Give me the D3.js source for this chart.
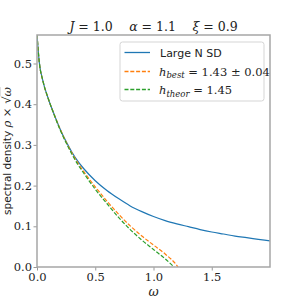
<!DOCTYPE html>
<html><head><meta charset="utf-8">
<script src="https://cdn.jsdelivr.net/npm/d3@7"></script>
<style>body{margin:0;background:#fff}svg{display:block}</style>
</head><body>
<svg id="c" width="300" height="300"></svg>
<script>
const omegaBlue = [0, 0.02, 0.05, 0.1, 0.15, 0.2, 0.25, 0.3, 0.35, 0.4, 0.5, 0.6, 0.7, 0.8, 0.9, 1.0, 1.1, 1.2, 1.3, 1.4, 1.5, 1.6, 1.7, 1.8, 1.9, 2.0];
const largeNSD  = [0.570, 0.502, 0.458, 0.411, 0.373, 0.338, 0.308, 0.282, 0.260, 0.242, 0.212, 0.188, 0.168, 0.150, 0.136, 0.124, 0.114, 0.106, 0.099, 0.092, 0.086, 0.081, 0.076, 0.072, 0.068, 0.064];
const omegaBest = [0, 0.02, 0.05, 0.1, 0.15, 0.2, 0.25, 0.3, 0.35, 0.4, 0.5, 0.6, 0.7, 0.8, 0.9, 1.0, 1.1, 1.2, 1.21];
const hBest     = [0.570, 0.502, 0.458, 0.411, 0.373, 0.338, 0.307, 0.280, 0.256, 0.235, 0.197, 0.162, 0.130, 0.101, 0.076, 0.054, 0.032, 0.004, 0.0];
const omegaTheor= [0, 0.02, 0.05, 0.1, 0.15, 0.2, 0.25, 0.3, 0.35, 0.4, 0.5, 0.6, 0.7, 0.8, 0.9, 1.0, 1.1, 1.177];
const hTheor    = [0.570, 0.502, 0.458, 0.411, 0.372, 0.336, 0.305, 0.277, 0.252, 0.231, 0.191, 0.156, 0.122, 0.092, 0.066, 0.043, 0.020, 0.0];
const xTicks = [0, 0.5, 1.0, 1.5];
const yTicks = [0, 0.1, 0.2, 0.3, 0.4, 0.5];

const svg = d3.select("#c");
const L = 37, R = 270, T = 35, B = 267;
const x = d3.scaleLinear().domain([0, 2.0]).range([L, R]);
const y = d3.scaleLinear().domain([0, 0.57]).range([B, T]);
const serif = "'DejaVu Serif', 'Liberation Serif', serif";
const sans = "'DejaVu Sans', sans-serif";

svg.append("clipPath").attr("id","clip").append("rect")
  .attr("x", L).attr("y", T).attr("width", R-L).attr("height", B-T);

const line = d3.line().x(d => x(d[0])).y(d => y(d[1])).curve(d3.curveMonotoneX);
const g = svg.append("g").attr("clip-path","url(#clip)");
g.append("path").datum(omegaBlue.map((o,i)=>[o, largeNSD[i]]))
  .attr("d", line).attr("fill","none").attr("stroke","#1f77b4").attr("stroke-width",1.2);
g.append("path").datum(omegaBest.map((o,i)=>[o, hBest[i]]))
  .attr("d", line).attr("fill","none").attr("stroke","#ff7f0e").attr("stroke-width",1.2).attr("stroke-dasharray","4,1.8");
g.append("path").datum(omegaTheor.map((o,i)=>[o, hTheor[i]]))
  .attr("d", line).attr("fill","none").attr("stroke","#2ca02c").attr("stroke-width",1.2).attr("stroke-dasharray","4,1.8");

// axes
const xa = svg.append("g").attr("transform", `translate(0,${B})`)
  .call(d3.axisBottom(x).tickValues(xTicks).tickFormat(d3.format(".1f")).tickSize(3.5).tickSizeOuter(0));
const ya = svg.append("g").attr("transform", `translate(${L},0)`)
  .call(d3.axisLeft(y).tickValues(yTicks).tickFormat(d3.format(".1f")).tickSize(3.5).tickSizeOuter(0));
[xa, ya].forEach(a => {
  a.select(".domain").remove();
  a.selectAll(".tick line").attr("stroke","#999").attr("stroke-width",1);
  a.selectAll(".tick text").attr("font-family", serif).attr("font-size", 11.5).attr("fill","#222");
});
xa.selectAll(".tick text").attr("y", 5.5);
ya.selectAll(".tick text").attr("x", -5);

svg.append("rect").attr("x",L).attr("y",T).attr("width",R-L).attr("height",B-T)
  .attr("fill","none").attr("stroke","#a6a6a6").attr("stroke-width",1.5);

// title
const title = svg.append("text").attr("x", 153.5).attr("y", 31).attr("text-anchor","middle")
  .attr("font-family", serif).attr("font-size", 12.5).attr("fill","#222");
title.append("tspan").attr("font-style","italic").text("J");
title.append("tspan").text(" = 1.0\u2003 ");
title.append("tspan").attr("font-style","italic").text("α");
title.append("tspan").text(" = 1.1\u2003 ");
title.append("tspan").attr("font-style","italic").text("ξ");
title.append("tspan").text(" = 0.9");

// x label
svg.append("text").attr("x", 153.5).attr("y", 296).attr("text-anchor","middle")
  .attr("font-family", serif).attr("font-style","italic").attr("font-size", 12.5).attr("fill","#222").text("ω");

// y label
const yl = svg.append("text").attr("transform","translate(11,151) rotate(-90)").attr("text-anchor","middle")
  .attr("font-size", 10.5).attr("fill","#222");
yl.append("tspan").attr("font-family", sans).text("spectral density ");
yl.append("tspan").attr("font-family", serif).attr("font-style","italic").attr("font-size",11.5).text("ρ");
yl.append("tspan").attr("font-family", serif).attr("font-size",11.5).text(" × √");
yl.append("tspan").attr("font-family", serif).attr("font-style","italic").attr("font-size",11.5).attr("text-decoration","overline").text("ω");

// legend
const lg = svg.append("g");
lg.append("rect").attr("x",120).attr("y",42).attr("width",144).attr("height",59).attr("rx",2.5)
  .attr("fill","#fff").attr("fill-opacity",0.8).attr("stroke","#d5d5d5").attr("stroke-width",1);
const entries = [
  {c:"#1f77b4", dash:null, y:52.5},
  {c:"#ff7f0e", dash:"4,1.8", y:71.5},
  {c:"#2ca02c", dash:"4,1.8", y:89.5}
];
entries.forEach(e => {
  lg.append("line").attr("x1",124.5).attr("x2",150).attr("y1",e.y).attr("y2",e.y)
    .attr("stroke",e.c).attr("stroke-width",1.3).attr("stroke-dasharray",e.dash);
});
lg.append("text").attr("x",160).attr("y",57).attr("font-family",sans).attr("font-size",11).attr("fill","#222").text("Large N SD");
const t2 = lg.append("text").attr("x",159).attr("y",75.5).attr("font-family",serif).attr("font-size",11.5).attr("fill","#222");
t2.append("tspan").attr("font-style","italic").text("h");
t2.append("tspan").attr("font-style","italic").attr("font-size",8.5).attr("dy",2.5).text("best");
t2.append("tspan").attr("dy",-2.5).text(" = 1.43 ± 0.04");
const t3 = lg.append("text").attr("x",159).attr("y",94).attr("font-family",serif).attr("font-size",11.5).attr("fill","#222");
t3.append("tspan").attr("font-style","italic").text("h");
t3.append("tspan").attr("font-style","italic").attr("font-size",8.5).attr("dy",2.5).text("theor");
t3.append("tspan").attr("dy",-2.5).text(" = 1.45");
</script>
</body></html>
